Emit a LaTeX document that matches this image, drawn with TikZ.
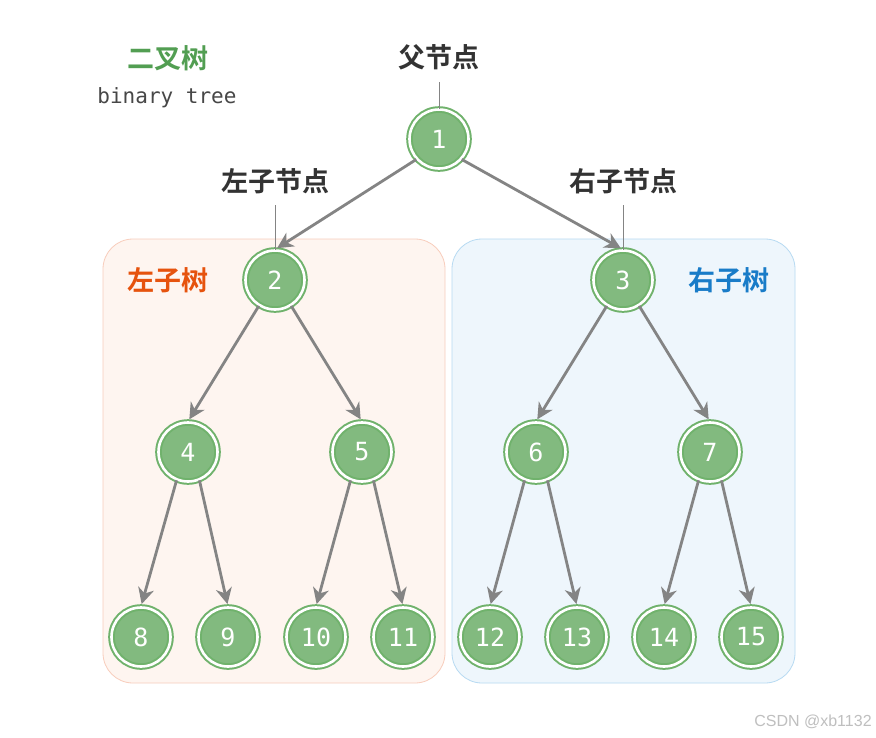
\documentclass[tikz,border=0pt]{standalone}
\usepackage{fontspec}
\newfontfamily\cjk{Noto Sans CJK SC}[BoldFont={Noto Sans CJK SC Bold}]
\newfontfamily\monof{DejaVu Sans Mono}
\usetikzlibrary{arrows.meta}
\definecolor{nodegreen}{RGB}{130,186,127}
\definecolor{ringgreen}{RGB}{112,178,108}
\definecolor{edgegray}{RGB}{132,132,132}
\definecolor{leftfill}{RGB}{254,245,240}
\definecolor{leftdraw}{RGB}{248,205,188}
\definecolor{rightfill}{RGB}{238,246,252}
\definecolor{rightdraw}{RGB}{183,218,242}
\definecolor{orangetxt}{RGB}{230,83,14}
\definecolor{bluetxt}{RGB}{25,124,200}
\definecolor{titlegreen}{RGB}{82,158,82}
\definecolor{labeltxt}{RGB}{51,51,51}
\begin{document}
\begin{tikzpicture}[x=1pt,y=-1pt,
  tnode/.style={circle, draw=ringgreen, double=white, double distance=2.6pt, line width=2pt,
    fill=nodegreen, minimum size=59pt, inner sep=0pt, text=white, font=\monof\fontsize{25}{25}\selectfont},
  edge/.style={draw=edgegray, line width=2.8pt, -{Stealth[length=16pt,width=16pt,inset=5pt]}, shorten >=2.5pt},
  cnlabel/.style={font=\cjk\bfseries\fontsize{27}{27}\selectfont, text=labeltxt, inner sep=0pt},
  pointer/.style={draw=edgegray, line width=0.8pt},
  subtree/.style={rounded corners=30pt, line width=0.8pt}
]
\useasboundingbox (0,0) rectangle (876,737);
\fill[white] (0,0) rectangle (876,737);
% subtree boxes
\path[subtree, fill=leftfill, draw=leftdraw] (103,239) rectangle (445,683);
\path[subtree, fill=rightfill, draw=rightdraw] (452,239) rectangle (795,683);
% titles
\node[font=\cjk\bfseries\fontsize{27}{27}\selectfont, text=titlegreen, inner sep=0pt] (title) at (168,58) {二叉树};
\node[font=\monof\fontsize{21}{21}\selectfont, text=labeltxt!90, inner sep=0pt] (subtitle) at (167,98) {binary tree};
\node[font=\cjk\bfseries\fontsize{27}{27}\selectfont, text=orangetxt, inner sep=0pt] (lt) at (168,280) {左子树};
\node[font=\cjk\bfseries\fontsize{27}{27}\selectfont, text=bluetxt, inner sep=0pt] (rt) at (729,280) {右子树};
% nodes
\node[tnode] (n1) at (439,139) {1};
\node[tnode] (n2) at (275,280) {2};
\node[tnode] (n3) at (623,280) {3};
\node[tnode] (n4) at (188,452) {4};
\node[tnode] (n5) at (362,452) {5};
\node[tnode] (n6) at (536,452) {6};
\node[tnode] (n7) at (710,452) {7};
\node[tnode] (n8) at (141,637) {8};
\node[tnode] (n9) at (228,637) {9};
\node[tnode] (n10) at (316,637) {10};
\node[tnode] (n11) at (403,637) {11};
\node[tnode] (n12) at (490,637) {12};
\node[tnode] (n13) at (577,637) {13};
\node[tnode] (n14) at (664,637) {14};
\node[tnode] (n15) at (751,637) {15};
% edges
\draw[edge] (n1.-138) -- (n2.north);
\draw[edge] (n1.-42) -- (n3.north);
\draw[edge] (n2.-122) -- (n4.north);
\draw[edge] (n2.-58) -- (n5.north);
\draw[edge] (n3.-122) -- (n6.north);
\draw[edge] (n3.-58) -- (n7.north);
\draw[edge] (n4.-112) -- (n8.north);
\draw[edge] (n4.-68) -- (n9.north);
\draw[edge] (n5.-112) -- (n10.north);
\draw[edge] (n5.-68) -- (n11.north);
\draw[edge] (n6.-112) -- (n12.north);
\draw[edge] (n6.-68) -- (n13.north);
\draw[edge] (n7.-112) -- (n14.north);
\draw[edge] (n7.-68) -- (n15.north);
% pointer labels
\node[cnlabel] (lp) at (439,57) {父节点};
\node[cnlabel] (ll) at (275,181) {左子节点};
\node[cnlabel] (lr) at (623,181) {右子节点};
\coordinate (lpb) at (439,82);
\coordinate (llb) at (275,205);
\coordinate (lrb) at (623,205);
\draw[pointer] (lpb) -- (n1.north);
\draw[pointer] (llb) -- (n2.north);
\draw[pointer] (lrb) -- (n3.north);
% watermark
\node[font=\fontspec{Liberation Sans}\fontsize{16}{16}\selectfont, text=black!25, inner sep=0pt] (wm) at (813,722) {CSDN @xb1132};
\end{tikzpicture}
\end{document}
